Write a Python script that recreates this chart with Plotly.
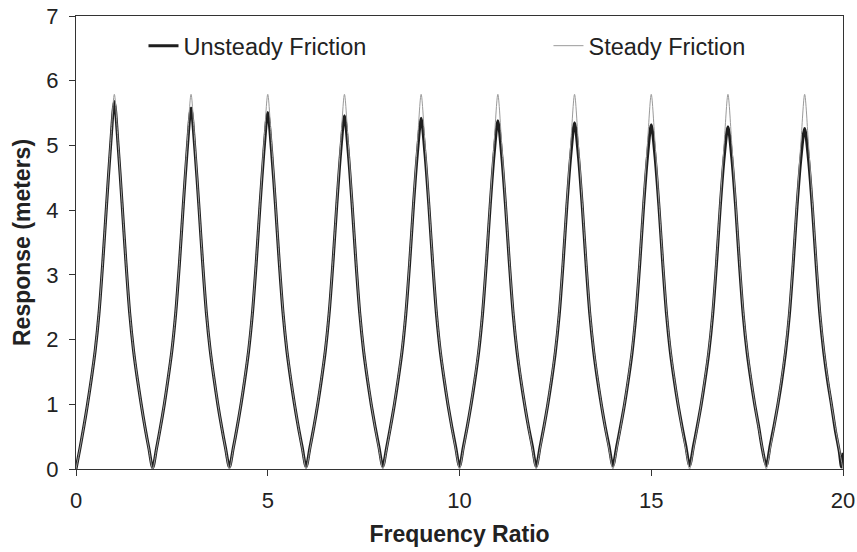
import numpy as np
import plotly.graph_objects as go

# Frequency ratio grid (step 0.1 from 0 to 20)
freq_ratio = np.round(np.arange(0, 201) * 0.1, 1)

# Steady friction response, one row per period (x = 2k .. 2k+1.9), plus final point at 20
steady_rows = [
    [0.00, 0.31, 0.64, 1.00, 1.40, 1.84, 2.42, 3.22, 4.12, 5.02, 5.79, 5.02, 4.12, 3.22, 2.42, 1.84, 1.40, 1.00, 0.64, 0.31],
    [0.00, 0.31, 0.64, 1.00, 1.40, 1.84, 2.42, 3.22, 4.12, 5.02, 5.79, 5.02, 4.12, 3.22, 2.42, 1.84, 1.40, 1.00, 0.64, 0.31],
    [0.00, 0.31, 0.64, 1.00, 1.40, 1.84, 2.42, 3.22, 4.12, 5.02, 5.79, 5.02, 4.12, 3.22, 2.42, 1.84, 1.40, 1.00, 0.64, 0.31],
    [0.00, 0.31, 0.64, 1.00, 1.40, 1.84, 2.42, 3.22, 4.12, 5.02, 5.79, 5.02, 4.12, 3.22, 2.42, 1.84, 1.40, 1.00, 0.64, 0.31],
    [0.00, 0.31, 0.64, 1.00, 1.40, 1.84, 2.42, 3.22, 4.12, 5.02, 5.79, 5.02, 4.12, 3.22, 2.42, 1.84, 1.40, 1.00, 0.64, 0.31],
    [0.00, 0.31, 0.64, 1.00, 1.40, 1.84, 2.42, 3.22, 4.12, 5.02, 5.79, 5.02, 4.12, 3.22, 2.42, 1.84, 1.40, 1.00, 0.64, 0.31],
    [0.00, 0.31, 0.64, 1.00, 1.40, 1.84, 2.42, 3.22, 4.12, 5.02, 5.79, 5.02, 4.12, 3.22, 2.42, 1.84, 1.40, 1.00, 0.64, 0.31],
    [0.00, 0.31, 0.64, 1.00, 1.40, 1.84, 2.42, 3.22, 4.12, 5.02, 5.79, 5.02, 4.12, 3.22, 2.42, 1.84, 1.40, 1.00, 0.64, 0.31],
    [0.00, 0.31, 0.64, 1.00, 1.40, 1.84, 2.42, 3.22, 4.12, 5.02, 5.79, 5.02, 4.12, 3.22, 2.42, 1.84, 1.40, 1.00, 0.64, 0.31],
    [0.00, 0.31, 0.64, 1.00, 1.40, 1.84, 2.42, 3.22, 4.12, 5.02, 5.79, 5.02, 4.12, 3.22, 2.42, 1.84, 1.40, 1.00, 0.64, 0.31],
]
steady_end = [0.00]

# Unsteady friction response, one row per period (x = 2k .. 2k+1.9)
unsteady_rows = [
    [0.00, 0.31, 0.64, 1.00, 1.39, 1.83, 2.41, 3.21, 4.11, 4.98, 5.68, 4.98, 4.11, 3.21, 2.41, 1.83, 1.39, 1.00, 0.64, 0.32],
    [0.02, 0.32, 0.64, 0.99, 1.39, 1.83, 2.41, 3.20, 4.10, 4.94, 5.58, 4.94, 4.10, 3.20, 2.41, 1.83, 1.39, 0.99, 0.64, 0.32],
    [0.03, 0.32, 0.64, 0.99, 1.38, 1.82, 2.40, 3.19, 4.09, 4.91, 5.51, 4.91, 4.09, 3.19, 2.40, 1.82, 1.38, 0.99, 0.64, 0.33],
    [0.03, 0.33, 0.64, 0.99, 1.38, 1.82, 2.40, 3.19, 4.08, 4.89, 5.46, 4.89, 4.08, 3.19, 2.40, 1.82, 1.38, 0.99, 0.65, 0.34],
    [0.04, 0.33, 0.65, 0.99, 1.38, 1.81, 2.39, 3.18, 4.08, 4.87, 5.42, 4.87, 4.08, 3.18, 2.39, 1.81, 1.38, 0.99, 0.65, 0.34],
    [0.04, 0.34, 0.65, 0.99, 1.37, 1.81, 2.39, 3.18, 4.07, 4.85, 5.38, 4.85, 4.07, 3.18, 2.39, 1.81, 1.37, 0.99, 0.65, 0.35],
    [0.04, 0.34, 0.65, 0.99, 1.37, 1.81, 2.38, 3.17, 4.07, 4.84, 5.35, 4.84, 4.07, 3.17, 2.38, 1.81, 1.37, 0.99, 0.65, 0.35],
    [0.05, 0.35, 0.66, 0.99, 1.37, 1.80, 2.38, 3.17, 4.06, 4.82, 5.32, 4.82, 4.06, 3.17, 2.38, 1.80, 1.37, 0.99, 0.66, 0.36],
    [0.05, 0.35, 0.66, 0.99, 1.37, 1.80, 2.37, 3.16, 4.06, 4.81, 5.29, 4.81, 4.06, 3.16, 2.37, 1.80, 1.37, 0.99, 0.66, 0.30],
    [0.05, 0.36, 0.66, 0.99, 1.36, 1.80, 2.37, 3.16, 4.05, 4.79, 5.26, 4.79, 4.05, 3.16, 2.37, 1.80, 1.36, 0.99, 0.60, 0.28],
]
unsteady_tail_x = [19.96, 20.0]
unsteady_tail_y = [0.03, 0.25]

x_ticks = [0, 5, 10, 15, 20]
y_ticks = [0, 1, 2, 3, 4, 5, 6, 7]

steady_y = [v for row in steady_rows for v in row] + steady_end
unsteady_x = list(freq_ratio[:-1]) + unsteady_tail_x
unsteady_y = [v for row in unsteady_rows for v in row] + unsteady_tail_y

FONT = "Liberation Sans, Arial, sans-serif"
TXT = "#222222"

fig = go.Figure()
fig.add_trace(go.Scatter(
    x=unsteady_x, y=unsteady_y, mode="lines", name="Unsteady Friction",
    line=dict(color="#1e1e1e", width=3, shape="spline", smoothing=0.8),
    legend="legend",
))
fig.add_trace(go.Scatter(
    x=freq_ratio, y=steady_y, mode="lines", name="Steady Friction",
    line=dict(color="#9a9a9a", width=1, shape="spline", smoothing=0.8),
    legend="legend2",
))

axis_common = dict(
    showgrid=False, zeroline=False, showline=True, mirror=True,
    linecolor="#333333", linewidth=1.3, ticks="outside", ticklen=6,
    tickcolor="#333333", tickwidth=1.3, automargin=False,
    tickfont=dict(family=FONT, size=22, color=TXT),
)

legend_common = dict(
    orientation="h", yanchor="middle", xanchor="left", y=0.934,
    itemwidth=30, font=dict(family=FONT, size=23.5, color=TXT),
    bgcolor="rgba(0,0,0,0)", borderwidth=0,
)

fig.update_layout(
    width=857, height=552,
    margin=dict(l=76, r=14, t=16, b=83),
    paper_bgcolor="white", plot_bgcolor="white",
    font=dict(family=FONT, color=TXT),
    showlegend=True,
    legend=dict(x=0.088, **legend_common),
    legend2=dict(x=0.616, **legend_common),
    xaxis=dict(range=[0, 20], tickvals=x_ticks, ticklabelstandoff=5,
               title=dict(text="<b>Frequency Ratio</b>", font=dict(family=FONT, size=23, color=TXT), standoff=14),
               **axis_common),
    yaxis=dict(range=[0, 7], tickvals=y_ticks, ticklabelstandoff=6,
               title=dict(text="<b>Response (meters)</b>", font=dict(family=FONT, size=23, color=TXT), standoff=9),
               **axis_common),
)

fig.write_html("out.html")
